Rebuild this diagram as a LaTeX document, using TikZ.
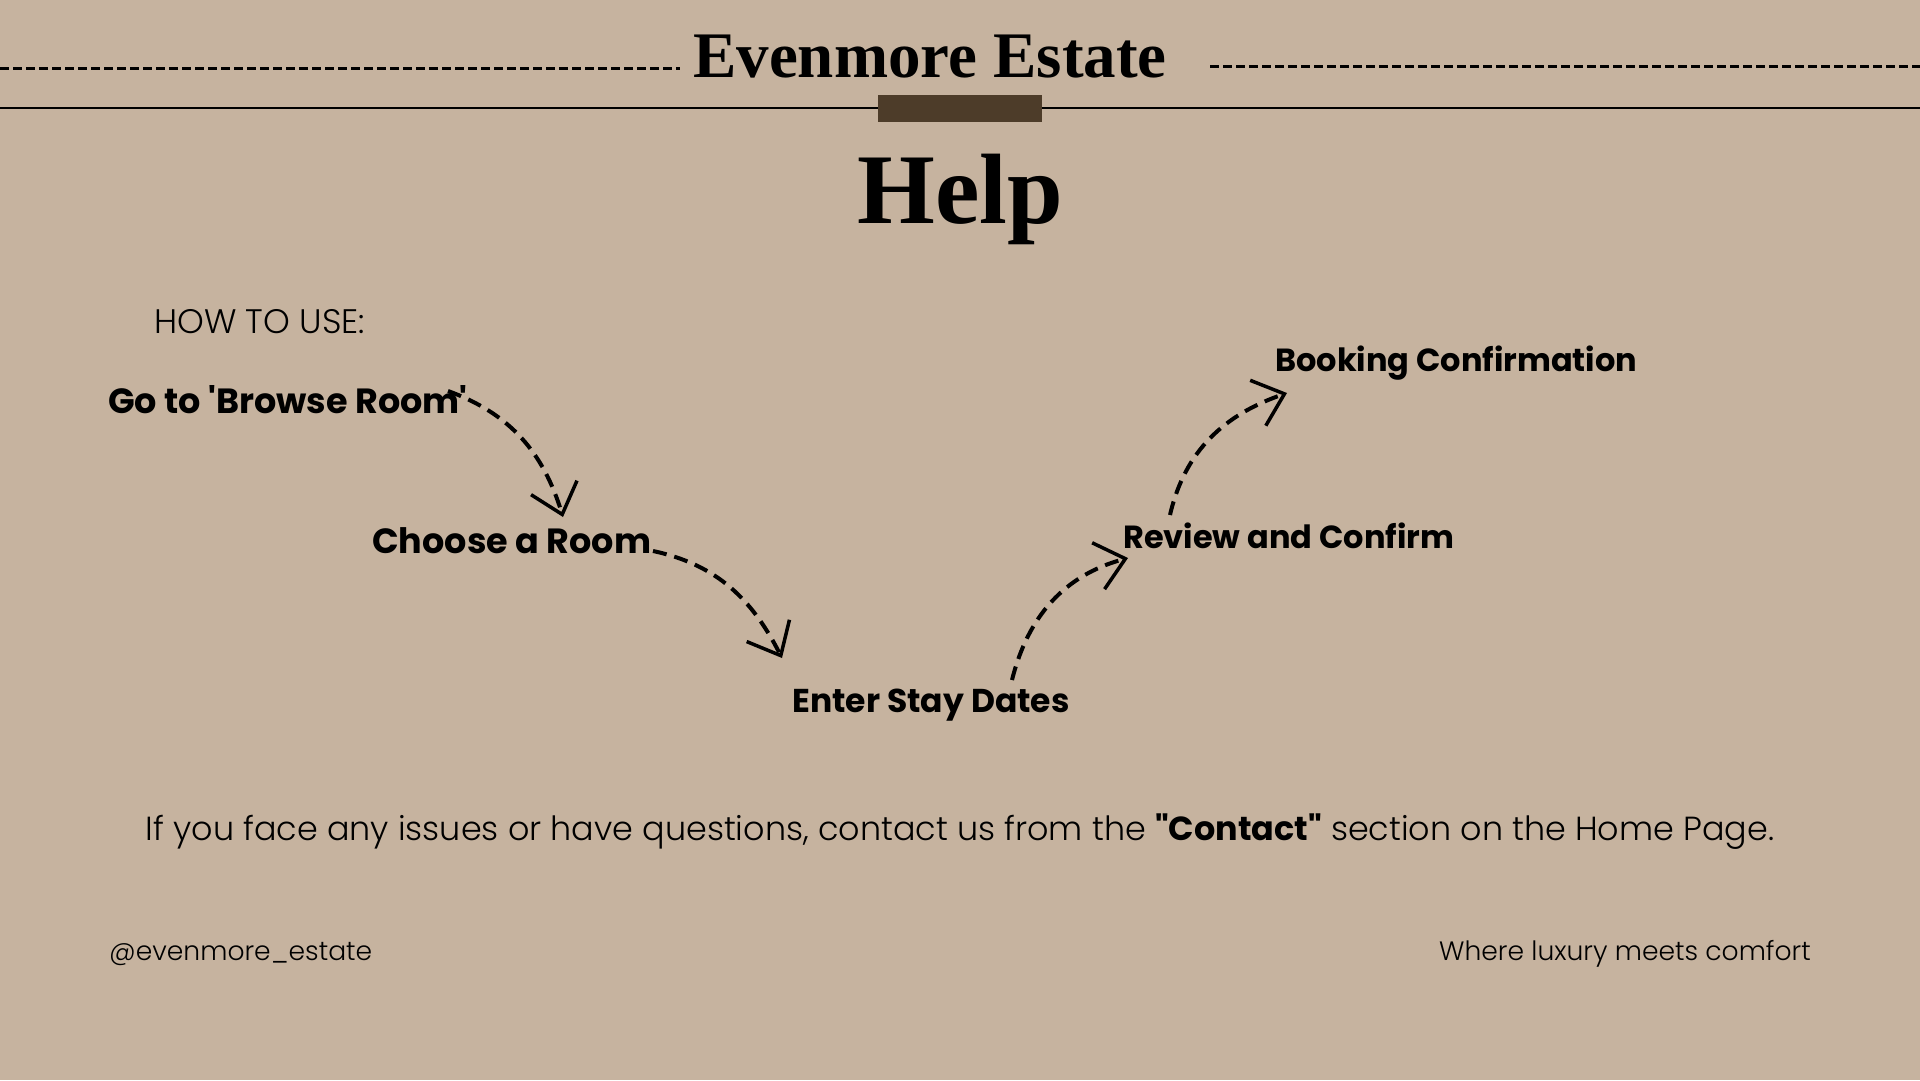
\documentclass[tikz,border=0pt]{standalone}
\usepackage{fontspec}
\usetikzlibrary{arrows.meta}

\newfontfamily\pop{Poppins}
\newfontfamily\poplight{Poppins Light}
\newfontfamily\titlefont{Liberation Serif}

\definecolor{sand}{HTML}{C6B39F}
\definecolor{darkbrown}{HTML}{4D3C29}

\begin{document}
\begin{tikzpicture}[x=1pt,y=1pt,
    steptext/.style={anchor=base west, inner sep=0pt, font=\pop\bfseries\fontsize{#1}{#1}\selectfont},
    steptext/.default=32,
    lighttext/.style={inner sep=0pt, font=\poplight\fontsize{#1}{#1}\selectfont},
    flowarrow/.style={line width=4pt, dash pattern=on 14pt off 8pt,
        -{Straight Barb[length=28pt,width=48pt,line width=3.5pt]}},
    headerdash/.style={line width=3pt, dash pattern=on 9pt off 4pt}
]

    % Background
    \fill[sand] (0,0) rectangle (1920,-1080);
    \useasboundingbox (0,0) rectangle (1920,-1080);

    %% Header
    \node[anchor=base, inner sep=0pt, font=\titlefont\bfseries\fontsize{65}{65}\selectfont] (brand) at (930,-77) {Evenmore Estate};
    \draw[headerdash] (0,-68) -- (680,-68);
    \draw[headerdash] (1210,-66) -- (1920,-66);
    \draw[line width=2pt] (0,-108) -- (1920,-108);
    \fill[darkbrown] (878,-95) rectangle (1042,-122);

    % Page title
    \node[anchor=base, inner sep=0pt, font=\titlefont\bfseries\fontsize{100}{100}\selectfont] (help) at (960,-223) {Help};

    %% Steps
    \node[lighttext=34, anchor=base west] (howto) at (154,-333) {HOW TO USE:};
    \node[steptext=35] (browse) at (108,-413) {Go to 'Browse Room'};
    \node[steptext=35] (choose) at (372,-553) {Choose a Room};
    \node[steptext=33] (dates) at (792,-712) {Enter Stay Dates};
    \node[steptext] (review) at (1123,-548) {Review and Confirm};
    \node[steptext] (booking) at (1275,-371) {Booking Confirmation};

    % Arrow ends
    \coordinate (browse-out) at (448,-391);
    \coordinate (choose-in) at (563,-517);
    \coordinate (choose-out) at (653,-551);
    \coordinate (dates-in) at (782,-658);
    \coordinate (dates-out) at (1012,-680);
    \coordinate (review-in) at (1128,-558);
    \coordinate (review-out) at (1170,-515);
    \coordinate (booking-in) at (1287,-393);

    % Arrows between steps
    \draw[flowarrow] (browse-out) to[out=-20, in=107] (choose-in);
    \draw[flowarrow] (choose-out) to[out=-12, in=117] (dates-in);
    \draw[flowarrow] (dates-out) to[out=76, in=195] (review-in);
    \draw[flowarrow] (review-out) to[out=77, in=199] (booking-in);

    %% Footer
    \node[anchor=base] (contact) at (960,-840) {\poplight\fontsize{33.4}{33.4}\selectfont If you face any issues or have questions, contact us from the {\pop\bfseries "Contact"} section on the Home Page.};
    \node[lighttext=26.6, anchor=base west] (handle) at (109,-960) {@evenmore\_estate};
    \node[lighttext=26.6, anchor=base east] (motto) at (1811,-960) {Where luxury meets comfort};

\end{tikzpicture}
\end{document}
